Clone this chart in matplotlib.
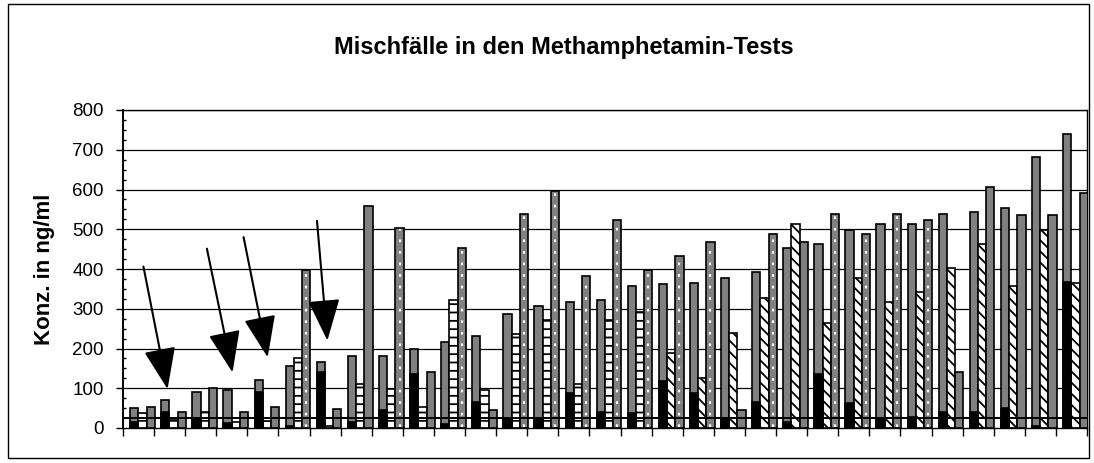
import matplotlib
matplotlib.use("Agg")
import matplotlib.pyplot as plt
from matplotlib.patches import Rectangle
from matplotlib.ticker import MultipleLocator
import numpy as np

plt.rcParams['font.family'] = ['Liberation Sans', 'DejaVu Sans']
plt.rcParams['hatch.linewidth'] = 1.3

# ---- data (ng/ml), 31 cases ----
black_part = [16, 40, 25, 12, 90, 5, 142, 16, 45, 135, 10, 66, 22, 22, 87, 41, 37, 117,
              87, 24, 66, 16, 136, 62, 24, 27, 41, 41, 50, 5, 368]
gray_total = [50, 70, 90, 95, 121, 156, 165, 181, 181, 200, 217, 231, 287, 308, 318, 322,
              358, 362, 366, 378, 392, 452, 463, 498, 512, 512, 538, 543, 553, 683, 740]
hatched = [38, 20, 40, 15, 18, 177, 5, 110, 97, 54, 322, 96, 236, 272, 111, 272, 293, 188,
           125, 238, 326, 512, 263, 378, 316, 341, 402, 463, 356, 498, 366]
third = [54, 40, 101, 40, 54, 397, 49, 558, 504, 142, 452, 45, 538, 595, 383, 523, 397, 433,
         469, 45, 487, 467, 538, 487, 538, 523, 140, 607, 537, 537, 592]
y_ticks = [0, 100, 200, 300, 400, 500, 600, 700, 800]
cutoff = 25

# ---- styles ----
hatch_style = ['--'] * 17 + ['\\\\\\'] * 14
dotted_flag = [False] * 5 + [True, False, False, True, False, True, False, True, True, True,
                             True, True, True, True, False, True, False, True, True, True,
                             True, False, False, False, False, False]

n = len(gray_total)
x = np.arange(n)
w = 0.265
off = [0.23, 0.495, 0.76]

fig = plt.figure(figsize=(10.94, 4.63), dpi=100)
ax = fig.add_axes([123 / 1094, 35 / 463, 964 / 1094, 318 / 463])

for yv in y_ticks[1:]:
    ax.axhline(yv, color='black', lw=0.9, zorder=0)

ax.bar(x + off[0], gray_total, width=w, align='edge', color='#808080',
       edgecolor='black', lw=1.2, zorder=2)
ax.bar(x + off[0], black_part, width=w, align='edge', color='black',
       edgecolor='black', lw=1.2, zorder=3)
bars_h = ax.bar(x + off[1], hatched, width=w, align='edge', color='white',
                edgecolor='black', lw=1.2, zorder=2)
for b, hs in zip(bars_h, hatch_style):
    b.set_hatch(hs)
ax.bar(x + off[2], third, width=w, align='edge', color='#808080',
       edgecolor='black', lw=1.2, zorder=4)
for xi, v, d in zip(x, third, dotted_flag):
    if d:
        ax.vlines(xi + off[2] + w / 2, 2, v - 4, colors='white', lw=1.6,
                  linestyles=(0, (1.2, 4)), zorder=5)

ax.axhline(cutoff, color='black', lw=1.4, zorder=6)

ax.set_xlim(0, n)
ax.set_ylim(0, 800)
ax.set_xticks(np.arange(0, n + 1))
ax.set_xticklabels([])
ax.set_yticks(y_ticks)
ax.set_yticklabels([str(v) for v in y_ticks], fontsize=13.5)
ax.yaxis.set_minor_locator(MultipleLocator(25))
ax.tick_params(axis='y', which='major', direction='out', length=5, width=1, pad=9)
ax.tick_params(axis='y', which='minor', direction='in', length=2.5, width=1)
ax.tick_params(axis='x', which='major', direction='out', length=5.5, width=1)
for s in ax.spines.values():
    s.set_color('black')
    s.set_linewidth(1.0)
ax.spines['left'].set_linewidth(1.4)

ax.set_ylabel('Konz. in ng/ml', fontsize=16, fontweight='bold', labelpad=12)

# arrows marking mixed cases
arrow_pairs = [((0.64, 413), (1.45, 91)), ((2.68, 458), (3.54, 133)),
               ((3.86, 487), (4.67, 171)), ((6.23, 528), (6.58, 213))]
for (x0, y0), (x1, y1) in arrow_pairs:
    ax.annotate('', xy=(x1, y1), xytext=(x0, y0),
                arrowprops=dict(arrowstyle='-|>,head_length=1.3,head_width=0.5',
                                color='black', lw=1.5, mutation_scale=20),
                zorder=8)

fig.text(0.515, 0.898, 'Mischfälle in den Methamphetamin-Tests', ha='center',
         va='center', fontsize=17, fontweight='bold')

fig.patches.append(Rectangle((8 / 1094, 5 / 463), 1081 / 1094, 454 / 463,
                             transform=fig.transFigure, fill=False,
                             edgecolor='black', lw=1.0))

fig.savefig('out.png', dpi=100)
